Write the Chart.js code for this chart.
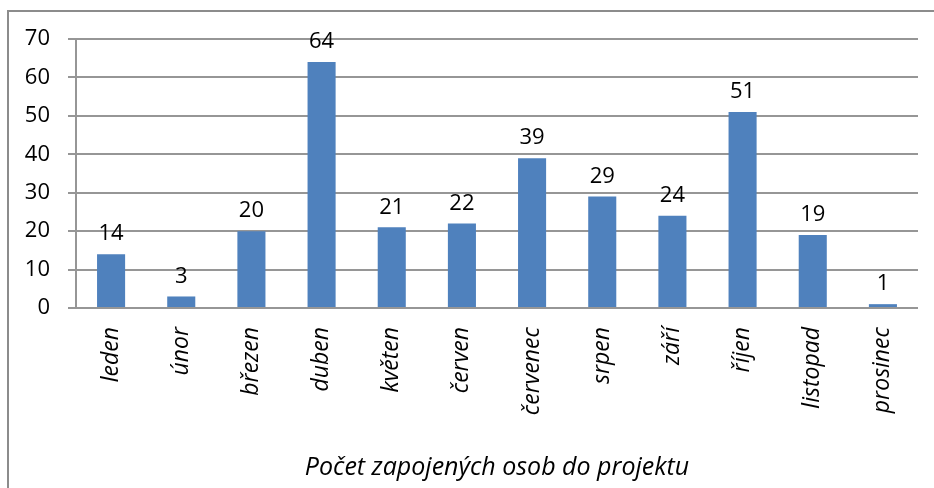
<!DOCTYPE html>
<html>
<head>
<meta charset="utf-8">
<script src="https://cdn.jsdelivr.net/npm/chart.js@4"></script>
<style>
    body { margin: 0; background: #fff; }
    #wrap { position: relative; width: 934px; height: 488px; }
</style>
</head>
<body>
<div id="wrap"><canvas id="chart"></canvas></div>
<script>
const months = ['leden', 'únor', 'březen', 'duben', 'květen', 'červen', 'červenec', 'srpen', 'září', 'říjen', 'listopad', 'prosinec'];
const persons = [14, 3, 20, 64, 21, 22, 39, 29, 24, 51, 19, 1];
const axisTitle = 'Počet zapojených osob do projektu';

const FONT = '"Open Sans", sans-serif';
const GRID = '#969696';

// outer frame of the chart object (runs off the right and bottom edge)
const framePlugin = {
    id: 'frame',
    beforeDraw(chart) {
        const ctx = chart.ctx;
        ctx.save();
        ctx.strokeStyle = '#8c8c8c';
        ctx.lineWidth = 2;
        ctx.strokeRect(8, 11, chart.width + 20, chart.height + 20);
        ctx.restore();
    }
};

// value labels above the bars
const valueLabels = {
    id: 'valueLabels',
    afterDatasetsDraw(chart) {
        const ctx = chart.ctx;
        const meta = chart.getDatasetMeta(0);
        ctx.save();
        ctx.font = '22px ' + FONT;
        ctx.fillStyle = '#000';
        ctx.textAlign = 'center';
        ctx.textBaseline = 'middle';
        meta.data.forEach((bar, i) => {
            ctx.fillText(persons[i], bar.x, bar.y - 20);
        });
        ctx.restore();
    }
};

const ctx = document.getElementById('chart').getContext('2d');
new Chart(ctx, {
    type: 'bar',
    data: {
        labels: months,
        datasets: [{
            data: persons,
            backgroundColor: '#4f81bd',
            borderWidth: 0,
            barPercentage: 0.4,
            categoryPercentage: 1
        }]
    },
    options: {
        responsive: true,
        maintainAspectRatio: false,
        animation: false,
        layout: { padding: { left: 0, top: 39, right: 16, bottom: 0 } },
        plugins: {
            legend: { display: false },
            tooltip: { enabled: false }
        },
        scales: {
            x: {
                grid: { display: false, drawTicks: false },
                border: { display: false },
                ticks: {
                    color: '#000',
                    font: { family: FONT, size: 23, style: 'italic' },
                    maxRotation: 90,
                    minRotation: 90,
                    padding: 19
                },
                title: {
                    display: true,
                    text: axisTitle,
                    color: '#000',
                    font: { family: FONT, size: 25, style: 'italic' },
                    padding: { top: 0, bottom: 5 }
                },
                afterFit(scale) { scale.height = 180; }
            },
            y: {
                min: 0,
                max: 70,
                grid: { color: GRID, lineWidth: 2, tickLength: 8 },
                border: { color: GRID, width: 2 },
                ticks: {
                    stepSize: 10,
                    color: '#000',
                    font: { family: FONT, size: 22 },
                    padding: 18
                },
                afterFit(scale) { scale.width = 76; }
            }
        }
    },
    plugins: [framePlugin, valueLabels]
});
</script>
</body>
</html>
